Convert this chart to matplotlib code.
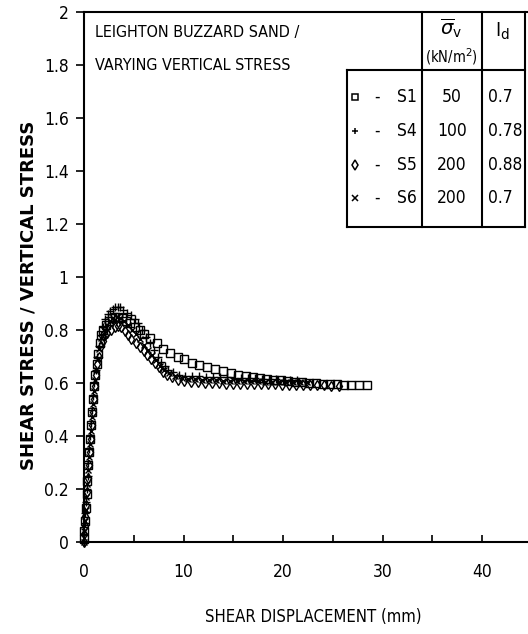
import os
import matplotlib
matplotlib.use("Agg")
import matplotlib.pyplot as plt
from matplotlib import font_manager as fm
from matplotlib.lines import Line2D

# S1 - squares
s1_x = [0, 0.05, 0.1, 0.18, 0.26, 0.35, 0.45, 0.55, 0.65, 0.75, 0.85, 0.95, 1.05, 1.15, 1.3,
        1.45, 1.6, 1.75, 1.95, 2.2, 2.5, 2.8, 3.1, 3.4, 3.8, 4.2, 4.6, 5.1, 5.6, 6.0, 6.6,
        7.3, 7.9, 8.6, 9.4, 10.1, 10.9, 11.6, 12.4, 13.2, 14.0, 14.8, 15.5, 16.3, 17.0, 17.7,
        18.4, 19.1, 19.8, 20.5, 21.2, 21.9, 22.6, 23.3, 24.0, 24.7, 25.4, 26.1, 26.8, 27.6, 28.4]
s1_y = [0.01, 0.04, 0.08, 0.13, 0.18, 0.23, 0.29, 0.34, 0.39, 0.44, 0.49, 0.54, 0.59, 0.63, 0.67,
        0.71, 0.75, 0.78, 0.80, 0.82, 0.835, 0.845, 0.85, 0.85, 0.845, 0.835, 0.825, 0.81, 0.80,
        0.785, 0.77, 0.75, 0.73, 0.715, 0.70, 0.69, 0.677, 0.668, 0.66, 0.653, 0.645, 0.638,
        0.632, 0.627, 0.622, 0.618, 0.615, 0.612, 0.61, 0.607, 0.605, 0.603, 0.601, 0.60, 0.598,
        0.597, 0.595, 0.594, 0.593, 0.592, 0.591]

# S4 - plus
s4_x = [0, 0.03, 0.08, 0.14, 0.2, 0.28, 0.36, 0.45, 0.55, 0.65, 0.75, 0.85, 0.95, 1.05, 1.2,
        1.35, 1.5, 1.7, 1.9, 2.15, 2.4, 2.65, 2.9, 3.15, 3.4, 3.65, 3.9, 4.3, 4.75, 5.1, 5.4,
        5.8, 6.2, 6.6, 7.0, 7.4, 7.75, 8.1, 8.4, 8.9, 9.5, 10.2, 10.9, 11.6, 12.3, 13.0, 13.7,
        14.4, 15.1, 15.8, 16.5, 17.2, 17.9, 18.6, 19.3, 20.0, 20.7, 21.4]
s4_y = [0.0, 0.03, 0.07, 0.11, 0.15, 0.2, 0.25, 0.3, 0.35, 0.4, 0.45, 0.5, 0.55, 0.6, 0.65,
        0.7, 0.74, 0.78, 0.81, 0.84, 0.86, 0.87, 0.88, 0.885, 0.888, 0.885, 0.875, 0.865, 0.857,
        0.84, 0.825, 0.80, 0.775, 0.75, 0.725, 0.70, 0.68, 0.665, 0.65, 0.64, 0.632, 0.628,
        0.626, 0.625, 0.624, 0.623, 0.622, 0.621, 0.62, 0.619, 0.618, 0.617, 0.616, 0.615,
        0.614, 0.613, 0.612, 0.611]

# S5 - diamonds
s5_x = [0, 0.04, 0.09, 0.15, 0.22, 0.3, 0.38, 0.47, 0.56, 0.66, 0.76, 0.86, 0.97, 1.08, 1.2,
        1.35, 1.5, 1.7, 1.9, 2.1, 2.35, 2.75, 3.1, 3.4, 3.75, 4.1, 4.45, 4.75, 5.2, 5.6, 6.0,
        6.3, 6.7, 7.1, 7.5, 7.9, 8.3, 8.8, 9.4, 10.1, 10.8, 11.5, 12.2, 12.9, 13.6, 14.3, 15.0,
        15.7, 16.4, 17.1, 17.8, 18.5, 19.2, 19.9, 20.6, 21.3, 22.0, 22.7, 23.4, 24.1, 24.8, 25.6]
s5_y = [0.0, 0.03, 0.06, 0.1, 0.14, 0.19, 0.24, 0.29, 0.34, 0.39, 0.44, 0.49, 0.54, 0.59, 0.63,
        0.67, 0.70, 0.74, 0.76, 0.78, 0.79, 0.80, 0.81, 0.815, 0.81, 0.795, 0.78, 0.765, 0.75,
        0.735, 0.72, 0.705, 0.69, 0.675, 0.66, 0.643, 0.632, 0.622, 0.612, 0.607, 0.604, 0.602,
        0.601, 0.60, 0.599, 0.598, 0.598, 0.597, 0.597, 0.596, 0.596, 0.595, 0.595, 0.594,
        0.594, 0.593, 0.593, 0.592, 0.592, 0.591, 0.59, 0.589]

# S6 - crosses
s6_x = [0, 0.05, 0.1, 0.17, 0.24, 0.32, 0.41, 0.5, 0.6, 0.7, 0.8, 0.9, 1.0, 1.12, 1.25, 1.4,
        1.55, 1.75, 2.0, 2.3, 2.6, 2.95, 3.3, 3.65, 4.0, 4.4, 4.8, 5.2, 5.6, 6.0, 6.4, 6.8, 7.2,
        7.6, 8.0, 8.5, 9.1, 9.8, 10.5, 11.2, 11.9, 12.6, 13.3, 14.0, 14.7, 15.4, 16.1, 16.8,
        17.5, 18.2, 18.9, 19.6, 20.3, 21.0, 21.7, 22.4]
s6_y = [0.0, 0.04, 0.08, 0.12, 0.17, 0.22, 0.27, 0.32, 0.37, 0.42, 0.47, 0.52, 0.57, 0.61, 0.65,
        0.69, 0.73, 0.77, 0.80, 0.82, 0.835, 0.845, 0.85, 0.845, 0.835, 0.82, 0.80, 0.785,
        0.765, 0.745, 0.725, 0.705, 0.685, 0.665, 0.65, 0.637, 0.627, 0.62, 0.616, 0.614, 0.612,
        0.611, 0.61, 0.609, 0.608, 0.607, 0.607, 0.606, 0.606, 0.605, 0.605, 0.604, 0.604,
        0.603, 0.603, 0.602]

tests = ["S1", "S4", "S5", "S6"]
sigma_v = ["50", "100", "200", "200"]
dens = ["0.7", "0.78", "0.88", "0.7"]
markers = ["s", "+", "d", "x"]

yticks = [0, 0.2, 0.4, 0.6, 0.8, 1, 1.2, 1.4, 1.6, 1.8, 2]
ytick_labels = ["0", "0.2", "0.4", "0.6", "0.8", "1", "1.2", "1.4", "1.6", "1.8", "2"]
xticks = [0, 10, 20, 30, 40]
xticks_minor = [5, 15, 25, 35]


# the original uses a narrow helvetica, look for any condensed face
def pick_narrow():
    wanted = ["LiberationSansNarrow-Regular", "DejaVuSansCondensed.", "RobotoCondensed-Regular",
              "OpenSans_Condensed-Regular", "OpenSansCondensed", "NotoSans-Condensed.",
              "NotoSansCondensed-Regular", "Roboto_Condensed-Regular"]
    files = [f.fname for f in fm.fontManager.ttflist]
    for w in wanted:
        for f in files:
            if w in os.path.basename(f):
                return fm.FontProperties(fname=f)
    return fm.FontProperties(family="Liberation Sans")


base = pick_narrow()


def nf(size):
    p = base.copy()
    p.set_size(size)
    return p


W, H = 528, 634
fig = plt.figure(figsize=(W / 100, H / 100), dpi=100)
ax = fig.add_axes([84 / W, 1 - 542 / H, (W - 84) / W, 530 / H])


def fx(px):
    return px / W


def fy(py):
    return 1 - py / H


series = [(s1_x, s1_y), (s4_x, s4_y), (s5_x, s5_y), (s6_x, s6_y)]
sizes = [5.5, 6, 5, 5]
for (xs, ys), m, ms in zip(series, markers, sizes):
    ax.plot(xs, ys, linestyle="none", marker=m, ms=ms, mfc="none", mec="black",
            mew=1.0, clip_on=False)

ax.set_xlim(0, (W - 84) / 9.95)
ax.set_ylim(0, 2)
ax.spines["right"].set_visible(False)
for s in ["left", "bottom", "top"]:
    ax.spines[s].set_linewidth(1.5)

ax.set_yticks(yticks)
ax.set_yticklabels(ytick_labels, fontproperties=nf(12.5))
ax.set_xticks(xticks)
ax.set_xticks(xticks_minor, minor=True)
ax.set_xticklabels([str(t) for t in xticks], fontproperties=nf(12.5))
ax.tick_params(axis="y", direction="out", length=6, width=1.2, pad=5)
ax.tick_params(axis="x", which="both", direction="in", length=5, width=1.2, pad=15)

ax.set_xlabel("SHEAR DISPLACEMENT (mm)", fontproperties=nf(12), labelpad=22)
ax.xaxis.set_label_coords(0.516, -0.125)
ax.set_ylabel("SHEAR STRESS / VERTICAL STRESS", family="DejaVu Sans",
              fontweight="bold", fontsize=13)
ax.yaxis.set_label_coords(-0.105, 0.465)

# title block
ax.text(fx(95), fy(32), "LEIGHTON BUZZARD SAND /", transform=fig.transFigure,
        fontproperties=nf(11.5), va="center", ha="left")
ax.text(fx(95), fy(65), "VARYING VERTICAL STRESS", transform=fig.transFigure,
        fontproperties=nf(11.5), va="center", ha="left")

# legend table
lw = 1.5
frame = [
    ((422, 422), (12, 227)),
    ((482, 482), (12, 227)),
    ((525, 525), (12, 227)),
    ((347, 525), (70, 70)),
    ((347, 347), (70, 227)),
    ((347, 525), (227, 227)),
]
for (x0, x1), (y0, y1) in frame:
    fig.add_artist(Line2D([fx(x0), fx(x1)], [fy(y0), fy(y1)], color="black", lw=lw))

fig.text(fx(451), fy(28), r"$\overline{\sigma}_{\mathrm{v}}$", fontsize=14, ha="center", va="center")
fig.text(fx(451), fy(57), "(kN/m$^2$)", fontproperties=nf(10.5), ha="center", va="center")
fig.text(fx(502), fy(31), "I$_\\mathrm{d}$", fontproperties=nf(14), ha="center", va="center")

row_y = [97, 131, 165, 198]
for yy, m, t, sv, d in zip(row_y, markers, tests, sigma_v, dens):
    fig.add_artist(Line2D([fx(355)], [fy(yy)], marker=m, ms=5, mfc="none", mec="black",
                          mew=1.1, linestyle="none"))
    fig.text(fx(377), fy(yy), "-", fontproperties=nf(12), ha="center", va="center")
    fig.text(fx(417), fy(yy), t, fontproperties=nf(12.5), ha="right", va="center")
    fig.text(fx(452), fy(yy), sv, fontproperties=nf(12.5), ha="center", va="center")
    fig.text(fx(488), fy(yy), d, fontproperties=nf(12.5), ha="left", va="center")

fig.savefig("out.png", dpi=100)
